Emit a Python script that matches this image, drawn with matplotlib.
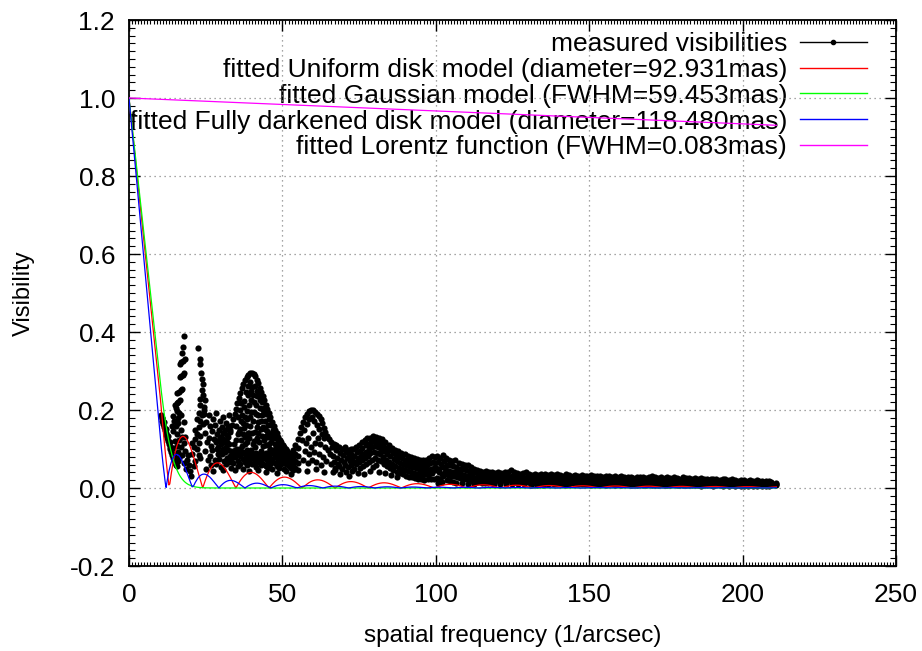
import matplotlib

matplotlib.use("Agg")

import matplotlib.pyplot as plt
import numpy as np
from matplotlib.lines import Line2D
from matplotlib.ticker import MultipleLocator

# fitted model parameters, in mas
UD_DIAMETER = 92.931
GAUSS_FWHM = 59.453
FDD_DIAMETER = 118.480
LORENTZ_FWHM = 0.083

# Lorentz curve (a nearly straight line)
lorentz_freq = [0.0, 211.0]
lorentz_vis = [1.0, 0.93]

# measured visibilities: (spatial frequency, visibility)
first_drop = [
    (10.3, 0.186), (10.6, 0.180), (10.9, 0.171), (11.1, 0.165), (11.4, 0.157),
    (11.7, 0.150), (11.9, 0.142), (12.2, 0.136), (12.5, 0.127), (12.7, 0.121),
    (13.0, 0.113), (13.3, 0.106), (13.5, 0.099), (13.8, 0.092), (14.1, 0.085),
    (14.4, 0.078), (14.7, 0.071), (15.0, 0.065), (15.4, 0.060), (15.8, 0.056),
    (10.9, 0.180), (11.5, 0.168), (12.1, 0.152), (12.8, 0.133), (13.4, 0.118),
    (14.0, 0.102), (14.6, 0.088), (15.2, 0.077), (15.9, 0.068),
]

first_spike = [
    (18.0, 0.389), (17.7, 0.362), (17.4, 0.345),
    (16.6, 0.318), (17.1, 0.322), (17.6, 0.326), (18.2, 0.330),
    (16.5, 0.284), (17.0, 0.288), (17.5, 0.291), (18.0, 0.294),
    (15.6, 0.243), (16.2, 0.247), (16.8, 0.251), (17.4, 0.255),
    (15.5, 0.217), (16.0, 0.221), (16.6, 0.226),
    (15.0, 0.213), (15.2, 0.205), (15.8, 0.198), (16.4, 0.192), (17.0, 0.186),
    (14.2, 0.185), (14.8, 0.172), (13.9, 0.160), (15.3, 0.158), (16.1, 0.166),
    (16.9, 0.150), (14.5, 0.145), (15.7, 0.138), (17.4, 0.132), (16.3, 0.124),
    (14.9, 0.120), (17.9, 0.116), (15.5, 0.108), (16.8, 0.104), (14.3, 0.103),
    (18.4, 0.096), (15.9, 0.092), (17.2, 0.085), (16.4, 0.078), (18.9, 0.072),
    (17.8, 0.064), (19.4, 0.058), (18.5, 0.050), (19.9, 0.044), (20.3, 0.032),
    (19.1, 0.085), (18.3, 0.130), (17.9, 0.170), (16.0, 0.180),
]

second_spike = [
    (22.4, 0.358), (23.0, 0.330), (23.2, 0.318), (23.6, 0.296), (23.9, 0.280),
    (24.2, 0.266), (23.7, 0.252), (24.2, 0.238), (23.3, 0.228), (24.8, 0.226),
    (23.0, 0.213), (24.4, 0.208), (22.7, 0.192), (23.7, 0.186), (22.2, 0.178),
    (23.2, 0.172), (24.0, 0.164), (22.7, 0.156), (22.2, 0.138), (23.2, 0.133),
    (21.6, 0.125), (22.7, 0.116), (21.1, 0.104), (22.2, 0.099), (20.6, 0.086),
    (22.7, 0.085), (21.6, 0.068), (23.2, 0.077), (21.1, 0.056), (20.5, 0.115),
    (21.4, 0.150), (24.6, 0.190),
]

bump_left = [
    (24.6, 0.201), (25.0, 0.168), (24.8, 0.142), (25.4, 0.119), (24.9, 0.094), (25.6, 0.071), (25.2, 0.049),
    (26.0, 0.187), (26.5, 0.158), (26.1, 0.129), (26.8, 0.108), (26.3, 0.081), (26.7, 0.059),
    (27.3, 0.176), (27.0, 0.145), (27.6, 0.126), (27.2, 0.097), (27.9, 0.072), (27.5, 0.043),
    (28.4, 0.193), (28.1, 0.161), (28.8, 0.139), (28.3, 0.117), (28.6, 0.101), (28.9, 0.086), (28.2, 0.062),
    (29.5, 0.171), (29.2, 0.148), (29.8, 0.131), (29.4, 0.122), (29.1, 0.106), (29.7, 0.092), (29.3, 0.074), (29.9, 0.053),
    (30.5, 0.183), (30.2, 0.157), (30.8, 0.141), (30.4, 0.128), (30.1, 0.114), (30.7, 0.101), (30.3, 0.087), (30.9, 0.069), (30.6, 0.046),
    (31.6, 0.166), (31.2, 0.149), (31.9, 0.136), (31.4, 0.124), (31.1, 0.117), (31.7, 0.106), (31.3, 0.093), (31.8, 0.078), (31.5, 0.061),
    (32.6, 0.188), (32.2, 0.158), (32.8, 0.143), (32.4, 0.131), (32.1, 0.119), (32.7, 0.112), (32.3, 0.098), (32.9, 0.083), (32.5, 0.067),
]

bump_ridges = [
    # outer rising flank
    (33.0, 0.150), (33.5, 0.162), (34.0, 0.176), (34.4, 0.189), (34.9, 0.203), (35.3, 0.217),
    (35.8, 0.231), (36.3, 0.244), (36.8, 0.256), (37.3, 0.267), (37.8, 0.277), (38.3, 0.285),
    (38.8, 0.291), (39.4, 0.295), (40.0, 0.296), (40.6, 0.293),
    # outer falling flank
    (41.1, 0.286), (41.6, 0.278), (42.1, 0.268), (42.6, 0.257), (43.1, 0.246), (43.6, 0.236),
    (44.1, 0.225), (44.6, 0.214), (45.1, 0.203), (45.6, 0.192), (46.1, 0.181), (46.6, 0.170),
    (47.1, 0.160), (47.6, 0.150), (48.1, 0.141), (48.6, 0.132), (49.1, 0.124), (49.6, 0.117),
    (50.1, 0.110), (50.6, 0.104), (51.1, 0.099), (51.6, 0.094), (52.1, 0.090), (52.6, 0.087),
    # inner falling flank
    (41.0, 0.262), (41.8, 0.250), (42.5, 0.236), (43.3, 0.221), (44.0, 0.206), (44.8, 0.190),
    (45.5, 0.176), (46.3, 0.161), (47.0, 0.148), (47.8, 0.135), (48.5, 0.123), (49.3, 0.112),
    (50.0, 0.102), (50.8, 0.093), (51.5, 0.086), (52.3, 0.079),
    # inner rising flank
    (34.2, 0.112), (34.9, 0.124), (35.6, 0.138), (36.3, 0.152), (37.0, 0.167), (37.7, 0.182),
    (38.4, 0.198), (39.1, 0.212), (39.8, 0.226), (40.4, 0.238),
]

bump_inside = [
    (36.1, 0.201), (37.4, 0.223), (38.0, 0.246), (38.9, 0.262), (39.6, 0.271), (40.2, 0.259),
    (41.3, 0.214), (40.8, 0.196), (39.3, 0.183), (38.2, 0.161), (37.1, 0.139), (36.4, 0.124),
    (42.0, 0.188), (43.0, 0.171), (41.6, 0.157), (40.1, 0.142), (39.0, 0.128), (44.2, 0.152),
    (43.4, 0.134), (42.4, 0.119), (45.3, 0.131), (37.9, 0.113), (41.0, 0.104), (44.6, 0.109),
    (39.7, 0.097), (42.9, 0.094), (46.2, 0.119), (35.4, 0.181), (36.8, 0.188), (43.8, 0.199),
    (35.0, 0.158), (35.9, 0.143), (36.6, 0.171), (37.5, 0.155), (38.3, 0.176), (38.7, 0.142),
    (39.4, 0.158), (39.9, 0.196), (40.5, 0.172), (40.7, 0.221), (41.4, 0.189), (41.9, 0.168),
    (42.2, 0.141), (42.7, 0.206), (43.2, 0.186), (43.6, 0.156), (44.4, 0.171), (44.9, 0.146),
    (45.2, 0.161), (45.8, 0.138), (46.5, 0.141), (47.2, 0.128), (47.6, 0.112), (48.3, 0.108),
    (48.9, 0.099), (49.5, 0.094), (50.3, 0.088), (46.0, 0.101), (44.0, 0.124), (41.8, 0.128),
    (40.6, 0.121), (38.6, 0.117), (36.9, 0.107), (35.2, 0.101), (36.0, 0.088), (38.0, 0.092),
    (40.4, 0.113), (43.7, 0.107), (45.6, 0.112), (47.3, 0.096), (37.8, 0.132), (39.2, 0.141),
    (41.2, 0.143), (42.9, 0.152), (44.6, 0.133), (46.7, 0.127), (38.9, 0.238), (37.6, 0.208),
    (36.4, 0.218), (39.9, 0.248), (41.7, 0.236), (42.6, 0.226),
]

# columns of dots under the big bump: (spatial frequency, [visibilities])
bump_floor = [
    (33.2, [0.094, 0.071, 0.052]),
    (34.0, [0.087, 0.064]),
    (34.7, [0.098, 0.079, 0.046]),
    (35.5, [0.091, 0.068, 0.057]),
    (36.2, [0.101, 0.082, 0.061]),
    (37.0, [0.093, 0.074, 0.049]),
    (37.7, [0.087, 0.066]),
    (38.5, [0.098, 0.079, 0.058]),
    (39.2, [0.084, 0.069, 0.043]),
    (40.0, [0.091, 0.076, 0.061]),
    (40.7, [0.083, 0.064]),
    (41.5, [0.089, 0.072, 0.054]),
    (42.2, [0.081, 0.067, 0.047]),
    (43.0, [0.086, 0.071, 0.058]),
    (43.7, [0.079, 0.062]),
    (44.5, [0.091, 0.074, 0.057, 0.041]),
    (45.2, [0.084, 0.066, 0.052]),
    (46.0, [0.097, 0.078, 0.061]),
    (46.7, [0.089, 0.072, 0.049]),
    (47.5, [0.101, 0.081, 0.064]),
    (48.2, [0.094, 0.076, 0.056, 0.038]),
    (49.0, [0.087, 0.069, 0.052]),
    (49.7, [0.096, 0.078, 0.061]),
    (50.5, [0.084, 0.067, 0.048]),
    (51.2, [0.078, 0.062, 0.044]),
    (52.0, [0.071, 0.056]),
    (52.7, [0.066, 0.051, 0.037]),
    (53.5, [0.098, 0.079, 0.061, 0.046]),
    (54.2, [0.109, 0.088, 0.068, 0.052]),
    (55.0, [0.126, 0.103, 0.082, 0.063, 0.047]),
]

second_bump = [
    (55.6, 0.140), (56.2, 0.156), (56.8, 0.170), (57.4, 0.182), (58.0, 0.191), (58.6, 0.198),
    (59.3, 0.201), (60.0, 0.199), (60.7, 0.195), (61.3, 0.190), (61.9, 0.184), (62.5, 0.176),
    (63.0, 0.166), (63.5, 0.154), (64.0, 0.143), (64.6, 0.133), (65.3, 0.125), (66.0, 0.119),
    (66.8, 0.114), (67.6, 0.110),
    (57.0, 0.148), (57.9, 0.163), (58.7, 0.176), (59.6, 0.183), (60.4, 0.172), (61.2, 0.162),
    (62.0, 0.151), (62.8, 0.139), (63.6, 0.127), (58.3, 0.129), (59.9, 0.141), (61.6, 0.129),
    (60.6, 0.115), (59.2, 0.106), (57.7, 0.116), (56.4, 0.124), (62.4, 0.112), (63.9, 0.104),
    (64.8, 0.097), (57.3, 0.094), (58.8, 0.086), (60.3, 0.092), (61.9, 0.087), (63.3, 0.079),
    (65.6, 0.088), (56.7, 0.072), (58.2, 0.064), (59.7, 0.071), (61.1, 0.066), (62.6, 0.059),
    (64.2, 0.068), (65.9, 0.061), (60.8, 0.048), (57.9, 0.043), (63.7, 0.041),
]

middle_band = [
    (66.3, 0.104), (66.6, 0.083), (66.9, 0.067), (67.1, 0.052), (66.4, 0.041),
    (67.5, 0.097), (67.8, 0.078), (68.1, 0.061), (67.3, 0.046),
    (68.4, 0.106), (68.7, 0.089), (69.0, 0.072), (68.5, 0.057), (68.9, 0.036),
    (69.4, 0.101), (69.7, 0.084), (70.0, 0.066), (69.5, 0.049),
    (70.3, 0.104), (70.6, 0.092), (70.9, 0.076), (70.4, 0.059), (70.8, 0.041),
    (71.3, 0.098), (71.6, 0.081), (71.9, 0.068), (71.4, 0.053), (71.8, 0.031),
    (72.2, 0.099), (72.5, 0.087), (72.8, 0.071), (72.3, 0.058), (72.7, 0.044),
    (73.1, 0.101), (73.4, 0.083), (73.7, 0.066), (73.2, 0.049),
    (74.0, 0.106), (74.3, 0.092), (74.6, 0.077), (74.1, 0.061), (74.5, 0.038),
    (74.9, 0.111), (75.2, 0.096), (75.5, 0.081), (75.0, 0.066), (75.4, 0.051),
    (75.8, 0.118), (76.1, 0.102), (76.4, 0.087), (75.9, 0.072), (76.3, 0.056), (76.6, 0.036),
    (76.8, 0.123), (77.1, 0.109), (77.4, 0.093), (76.9, 0.078), (77.3, 0.062),
    (77.7, 0.127), (78.0, 0.114), (78.3, 0.099), (77.8, 0.083), (78.2, 0.067), (78.5, 0.044),
    (78.6, 0.129), (78.9, 0.118), (79.2, 0.104), (78.7, 0.089), (79.1, 0.073), (79.4, 0.054),
    (79.6, 0.133), (79.9, 0.121), (80.2, 0.107), (79.7, 0.093), (80.1, 0.077), (80.4, 0.059),
    (80.6, 0.131), (80.9, 0.119), (81.2, 0.104), (80.7, 0.091), (81.1, 0.072), (81.4, 0.042),
    (81.6, 0.128), (81.9, 0.116), (82.2, 0.101), (81.7, 0.086), (82.1, 0.068),
    (82.6, 0.126), (82.9, 0.111), (83.2, 0.094), (82.7, 0.079), (83.1, 0.062), (83.4, 0.039),
    (83.6, 0.118), (83.9, 0.103), (84.2, 0.088), (83.7, 0.073), (84.1, 0.057),
    (84.6, 0.109), (84.9, 0.097), (85.2, 0.081), (84.7, 0.066), (85.1, 0.051), (85.4, 0.034),
    (85.7, 0.103), (86.0, 0.089), (86.3, 0.074), (85.8, 0.061), (86.2, 0.046),
    (86.7, 0.098), (87.0, 0.084), (87.3, 0.069), (86.8, 0.056), (87.2, 0.041), (87.5, 0.029),
    (87.8, 0.094), (88.1, 0.079), (88.4, 0.065), (87.9, 0.052), (88.3, 0.038),
    (88.8, 0.089), (89.1, 0.076), (89.4, 0.061), (88.9, 0.049), (89.3, 0.035),
    (89.8, 0.086), (90.1, 0.072), (90.4, 0.058), (89.9, 0.046), (90.3, 0.031),
    (90.8, 0.082), (91.1, 0.069), (91.4, 0.056), (90.9, 0.043), (91.3, 0.029),
    (91.8, 0.079), (92.1, 0.066), (92.4, 0.053), (91.9, 0.041), (92.3, 0.027),
    (92.8, 0.076), (93.1, 0.063), (93.4, 0.051), (92.9, 0.039), (93.3, 0.025),
    (93.8, 0.074), (94.1, 0.061), (94.4, 0.049), (93.9, 0.037), (94.3, 0.024),
    (94.8, 0.072), (95.1, 0.059), (95.4, 0.047), (94.9, 0.035), (95.3, 0.022),
    (95.8, 0.071), (96.1, 0.058), (96.4, 0.046), (95.9, 0.034), (96.3, 0.021),
    (96.8, 0.073), (97.1, 0.060), (97.4, 0.047), (96.9, 0.035), (97.3, 0.022),
    (97.8, 0.077), (98.1, 0.063), (98.4, 0.049), (97.9, 0.036), (98.3, 0.023),
    (98.8, 0.081), (99.1, 0.066), (99.4, 0.052), (98.9, 0.039), (99.3, 0.024),
    (99.8, 0.079), (99.6, 0.063), (99.9, 0.045),
]

outer_band = [
    (100.4, 0.082), (100.7, 0.066), (100.2, 0.052), (100.9, 0.040), (100.5, 0.026), (100.8, 0.014),
    (101.4, 0.078), (101.7, 0.062), (101.2, 0.050), (101.9, 0.036), (101.5, 0.022),
    (102.4, 0.085), (102.7, 0.068), (102.2, 0.054), (102.9, 0.042), (102.5, 0.030), (102.1, 0.016),
    (103.4, 0.076), (103.7, 0.060), (103.2, 0.046), (103.9, 0.034), (103.5, 0.020),
    (104.4, 0.072), (104.7, 0.058), (104.2, 0.044), (104.9, 0.032), (104.5, 0.018),
    (105.4, 0.068), (105.7, 0.056), (105.2, 0.042), (105.9, 0.030), (105.5, 0.016),
    (106.4, 0.072), (106.7, 0.054), (106.2, 0.040), (106.9, 0.028), (106.5, 0.014),
    (107.4, 0.064), (107.7, 0.050), (107.2, 0.038), (107.9, 0.026),
    (108.4, 0.062), (108.7, 0.048), (108.2, 0.036), (108.9, 0.024), (108.5, 0.012),
    (109.4, 0.058), (109.7, 0.046), (109.2, 0.034), (109.9, 0.022),
    (110.4, 0.058), (110.7, 0.044), (110.2, 0.032), (110.9, 0.020), (110.5, 0.010),
    (111.4, 0.054), (111.7, 0.042), (111.2, 0.030), (111.9, 0.018),
    (112.4, 0.050), (112.7, 0.040), (112.2, 0.028), (112.9, 0.016), (112.5, 0.010),
    (113.4, 0.046), (113.7, 0.036), (113.2, 0.026), (113.9, 0.016),
    (114.4, 0.044), (114.7, 0.034), (114.2, 0.024), (114.9, 0.014),
    (115.4, 0.042), (115.7, 0.032), (115.2, 0.022), (115.9, 0.012),
    (116.4, 0.044), (116.7, 0.034), (116.2, 0.024), (116.9, 0.014),
    (117.4, 0.042), (117.7, 0.032), (117.2, 0.022), (117.9, 0.012),
    (118.4, 0.040), (118.7, 0.030), (118.2, 0.020), (118.9, 0.010),
    (119.4, 0.038), (119.7, 0.028), (119.2, 0.018),
    (120.4, 0.040), (120.7, 0.030), (120.2, 0.020), (120.9, 0.010),
    (121.4, 0.038), (121.7, 0.028), (121.2, 0.018),
    (122.4, 0.042), (122.7, 0.030), (122.2, 0.020), (122.9, 0.010),
    (123.4, 0.040), (123.7, 0.028), (123.2, 0.018),
    (124.4, 0.046), (124.7, 0.032), (124.2, 0.020), (124.9, 0.010),
    (125.4, 0.040), (125.7, 0.028), (125.2, 0.018),
    (126.4, 0.038), (126.7, 0.028), (126.2, 0.016), (126.9, 0.009),
    (127.4, 0.036), (127.7, 0.026), (127.2, 0.016),
    (128.4, 0.038), (128.7, 0.026), (128.2, 0.016), (128.9, 0.009),
    (129.4, 0.040), (129.7, 0.028), (129.2, 0.016),
    (130.4, 0.036), (130.7, 0.026), (130.2, 0.016), (130.9, 0.008),
    (131.4, 0.034), (131.7, 0.024), (131.2, 0.014),
    (132.4, 0.036), (132.7, 0.024), (132.2, 0.014), (132.9, 0.008),
    (133.4, 0.034), (133.7, 0.024), (133.2, 0.014),
    (134.4, 0.037), (134.7, 0.026), (134.2, 0.016), (134.9, 0.008),
]

# long tail, three rows of dots per frequency
tail_freq = [
    135.6, 136.5, 137.4, 138.6, 139.5, 140.4, 141.6, 142.5, 143.4, 144.6, 145.5, 146.4,
    147.6, 148.5, 149.4, 150.6, 151.5, 152.4, 153.6, 154.5, 155.4, 156.6, 157.5, 158.4,
    159.6, 160.5, 161.4, 162.6, 163.5, 164.4, 165.6, 166.5, 167.4, 168.6, 169.5, 170.4,
    171.6, 172.5, 173.4, 174.6, 175.5, 176.4, 177.6, 178.5, 179.4, 180.6, 181.5, 182.4,
    183.6, 184.5, 185.4, 186.6, 187.5, 188.4, 189.6, 190.5, 191.4, 192.6, 193.5, 194.4,
    195.6, 196.5, 197.4, 198.6, 199.5, 200.4, 201.6, 202.5, 203.4, 204.6, 205.5, 206.4,
    207.6, 208.5, 209.4, 211.0,
]
tail_high = [
    0.036, 0.034, 0.037, 0.033, 0.035, 0.034, 0.032, 0.035, 0.033, 0.031, 0.034, 0.032,
    0.033, 0.030, 0.032, 0.034, 0.031, 0.030, 0.032, 0.029, 0.031, 0.030, 0.028, 0.031,
    0.029, 0.030, 0.027, 0.029, 0.028, 0.026, 0.028, 0.027, 0.029, 0.026, 0.028, 0.030,
    0.027, 0.026, 0.028, 0.025, 0.027, 0.026, 0.029, 0.026, 0.024, 0.027, 0.025, 0.026,
    0.024, 0.025, 0.023, 0.025, 0.024, 0.022, 0.024, 0.022, 0.023, 0.021, 0.023, 0.022,
    0.020, 0.022, 0.021, 0.019, 0.021, 0.020, 0.019, 0.021, 0.018, 0.020, 0.019, 0.017,
    0.019, 0.017, 0.016, 0.012,
]
tail_mid = [
    0.024, 0.022, 0.025, 0.021, 0.023, 0.022, 0.021, 0.023, 0.020, 0.022, 0.021, 0.020,
    0.022, 0.019, 0.021, 0.020, 0.019, 0.021, 0.019, 0.020, 0.018, 0.020, 0.019, 0.018,
    0.019, 0.018, 0.017, 0.019, 0.018, 0.017, 0.018, 0.017, 0.018, 0.016, 0.018, 0.019,
    0.017, 0.016, 0.018, 0.016, 0.017, 0.016, 0.018, 0.016, 0.015, 0.017, 0.016, 0.015,
    0.016, 0.015, 0.014, 0.016, 0.015, 0.014, 0.015, 0.014, 0.015, 0.013, 0.014, 0.014,
    0.013, 0.014, 0.013, 0.012, 0.013, 0.013, 0.012, 0.013, 0.012, 0.013, 0.012, 0.011,
    0.012, 0.011, 0.011, 0.010,
]
tail_low = [
    0.012, 0.010, 0.013, 0.011, 0.009, 0.012, 0.010, 0.011, 0.009, 0.012, 0.010, 0.009,
    0.011, 0.009, 0.010, 0.008, 0.010, 0.011, 0.009, 0.010, 0.008, 0.009, 0.010, 0.008,
    0.009, 0.008, 0.009, 0.010, 0.008, 0.009, 0.008, 0.009, 0.008, 0.007, 0.009, 0.008,
    0.008, 0.007, 0.009, 0.008, 0.007, 0.008, 0.009, 0.007, 0.008, 0.007, 0.008, 0.007,
    0.007, 0.008, 0.007, 0.006, 0.007, 0.008, 0.007, 0.006, 0.007, 0.007, 0.006, 0.007,
    0.006, 0.007, 0.006, 0.007, 0.006, 0.006, 0.006, 0.007, 0.006, 0.006, 0.007, 0.006,
    0.006, 0.006, 0.007, 0.007,
]

X_TICKS = [0, 50, 100, 150, 200, 250]
Y_TICKS = [-0.2, 0.0, 0.2, 0.4, 0.6, 0.8, 1.0, 1.2]

LEGEND_LABELS = [
    "measured visibilities",
    f"fitted Uniform disk model (diameter={UD_DIAMETER:.3f}mas)",
    f"fitted Gaussian model (FWHM={GAUSS_FWHM:.3f}mas)",
    f"fitted Fully darkened disk model (diameter={FDD_DIAMETER:.3f}mas)",
    f"fitted Lorentz function (FWHM={LORENTZ_FWHM:.3f}mas)",
]

MAS_TO_ARCSEC = 1e-3


def bessel_j1(x):
    tau = np.linspace(0.0, np.pi, 401)
    integrand = np.cos(tau[None, :] - x[:, None] * np.sin(tau[None, :]))
    return np.trapezoid(integrand, tau, axis=1) / np.pi


def uniform_disk(freq, diameter):
    x = np.pi * diameter * MAS_TO_ARCSEC * freq
    safe = np.where(x == 0, 1.0, x)
    return np.abs(np.where(x == 0, 1.0, 2.0 * bessel_j1(safe) / safe))


def gaussian(freq, fwhm):
    x = np.pi * fwhm * MAS_TO_ARCSEC * freq
    return np.exp(-x ** 2 / (4.0 * np.log(2.0)))


def darkened_disk(freq, diameter):
    x = np.pi * diameter * MAS_TO_ARCSEC * freq
    safe = np.where(x == 0, 1.0, x)
    v = 3.0 * (np.sin(safe) / safe - np.cos(safe)) / safe ** 2
    return np.abs(np.where(x == 0, 1.0, v))


def collect_points():
    pairs = (first_drop + first_spike + second_spike + bump_left + bump_ridges
             + bump_inside + second_bump + middle_band + outer_band)
    freq = [p[0] for p in pairs]
    vis = [p[1] for p in pairs]
    for f, column in bump_floor:
        freq += [f] * len(column)
        vis += column
    freq += tail_freq * 3
    vis += tail_high + tail_mid + tail_low
    return freq, vis


def main():
    plt.rcParams["font.family"] = ["Liberation Sans", "DejaVu Sans"]
    plt.rcParams["axes.unicode_minus"] = False

    freq, vis = collect_points()
    model_freq = np.concatenate([[0.0], np.sort(np.array(freq))])

    fig = plt.figure(figsize=(9.22, 6.51), dpi=100)
    ax = fig.add_axes([129 / 922, 1 - 566 / 651, 767 / 922, 546 / 651])

    ax.scatter(freq, vis, s=20, color="black", linewidths=0, zorder=3)
    ax.plot(model_freq, uniform_disk(model_freq, UD_DIAMETER), color="red", lw=0.9, zorder=4)
    ax.plot(model_freq, gaussian(model_freq, GAUSS_FWHM), color="#00ff00", lw=0.9, zorder=4)
    ax.plot(model_freq, darkened_disk(model_freq, FDD_DIAMETER), color="blue", lw=0.9, zorder=4)
    ax.plot(lorentz_freq, lorentz_vis, color="#ff00ff", lw=0.9, zorder=4)

    ax.set_xlim(0, 250)
    ax.set_ylim(-0.2, 1.2)
    ax.set_xticks(X_TICKS)
    ax.set_yticks(Y_TICKS)
    ax.set_yticklabels([f"{t:.1f}" for t in Y_TICKS])
    ax.xaxis.set_minor_locator(MultipleLocator(1))
    ax.yaxis.set_minor_locator(MultipleLocator(0.02))
    ax.tick_params(which="both", direction="in", top=True, right=True, labelsize=19, colors="black")
    ax.tick_params(which="major", length=8, width=1)
    ax.tick_params(which="minor", length=4, width=0.8)
    ax.tick_params(axis="x", which="minor", length=3)
    ax.tick_params(axis="x", which="major", pad=12)
    ax.tick_params(axis="y", which="major", pad=10)
    ax.grid(True, which="major", linestyle=(0, (1, 3)), color="#888888", lw=0.9)
    for spine in ax.spines.values():
        spine.set_linewidth(1.3)

    ax.set_xlabel("spatial frequency (1/arcsec)", fontsize=17.5, labelpad=13)
    ax.set_ylabel("Visibility", fontsize=17, labelpad=25)

    handles = [
        Line2D([], [], color="black", lw=1, marker="o", ms=3),
        Line2D([], [], color="red", lw=1),
        Line2D([], [], color="#00ff00", lw=1),
        Line2D([], [], color="blue", lw=1),
        Line2D([], [], color="#ff00ff", lw=1),
    ]
    leg = ax.legend(
        handles, LEGEND_LABELS,
        loc="upper right", bbox_to_anchor=(0.9622, 0.978),
        frameon=False, markerfirst=False, fontsize=19,
        handlelength=2.54, handletextpad=0.49, labelspacing=0.07,
        borderpad=0, borderaxespad=0, numpoints=1,
    )
    leg.set_zorder(1)

    fig.savefig("out.png", dpi=100)


if __name__ == "__main__":
    main()
